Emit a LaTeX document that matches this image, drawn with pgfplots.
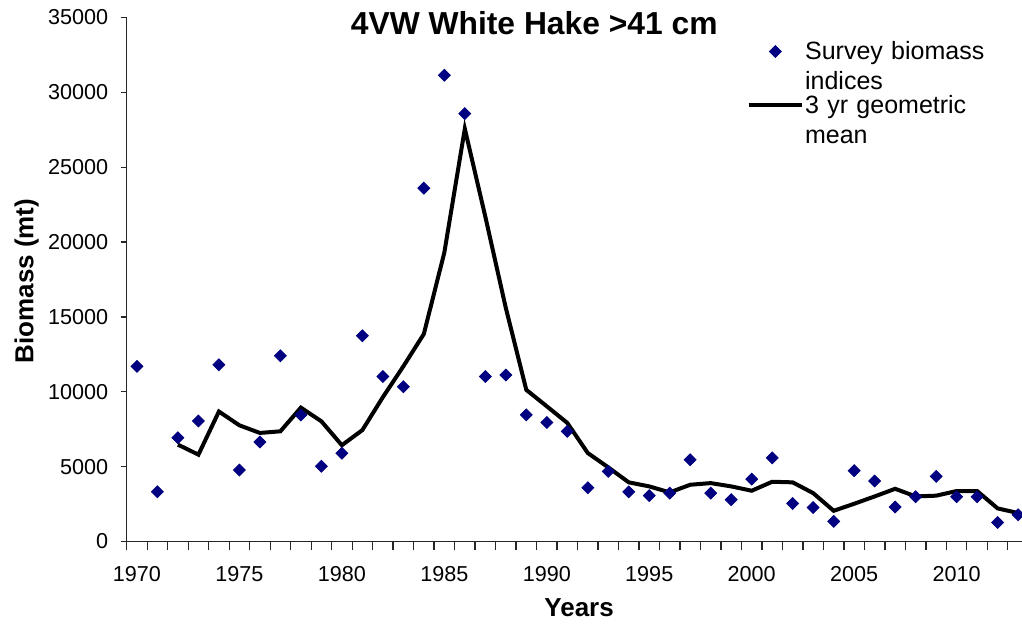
\documentclass[border=0pt]{standalone}
\usepackage{fontspec}
\setmainfont{Liberation Sans}
\usepackage{pgfplots}
\pgfplotsset{compat=1.18}
\definecolor{navymark}{RGB}{0,0,128}

\pgfplotstableread{
year biomass
1970 11700
1971 3320
1972 6930
1973 8050
1974 11800
1975 4770
1976 6650
1977 12400
1978 8450
1979 5020
1980 5900
1981 13740
1982 11020
1983 10340
1984 23600
1985 31140
1986 28580
1987 11020
1988 11120
1989 8460
1990 7950
1991 7360
1992 3590
1993 4680
1994 3320
1995 3060
1996 3230
1997 5460
1998 3230
1999 2790
2000 4170
2001 5580
2002 2540
2003 2270
2004 1340
2005 4730
2006 4040
2007 2300
2008 2990
2009 4350
2010 2990
2011 2990
2012 1270
2013 1780
}\survey

\pgfplotstableread{
year gmean
1972 6470
1973 5800
1974 8680
1975 7760
1976 7250
1977 7360
1978 8940
1979 8030
1980 6430
1981 7440
1982 9640
1983 11700
1984 13860
1985 19300
1986 27570
1987 21700
1988 15600
1989 10130
1990 9030
1991 7920
1992 5910
1993 4950
1994 3950
1995 3680
1996 3280
1997 3790
1998 3900
1999 3680
2000 3390
2001 3990
2002 3950
2003 3230
2004 2050
2005 2520
2006 3010
2007 3520
2008 3010
2009 3060
2010 3370
2011 3370
2012 2210
2013 1900
}\gmean

\begin{document}
\begin{tikzpicture}
\begin{axis}[
    scale only axis,
    width=447.65pt, height=262pt,
    xmin=1969.5, xmax=2013.19,
    ymin=0, ymax=35000,
    axis x line=bottom, axis y line=left,
    axis line style={-, black!85, line width=0.6pt},
    xtick={1970,1975,...,2010},
    minor xtick={1969.5,1970.5,...,2012.5},
    ytick={0,5000,...,35000},
    tick align=outside,
    major tick length=3pt, minor tick length=4.5pt,
    major x tick style={draw=none},
    every tick/.append style={black!85, line width=0.6pt},
    scaled y ticks=false,
    /pgf/number format/1000 sep={},
    /pgf/number format/assume math mode=true,
    tick label style={font=\fontsize{10.8}{13}\selectfont},
    xticklabel style={yshift=-6pt},
    yticklabel style={xshift=-2.75pt},
    title={4VW White Hake >41 cm},
    title style={at={(axis description cs:0.4552,0.9437)}, anchor=base,
        font=\fontsize{15.9}{18}\selectfont\bfseries},
    xlabel={Years},
    xlabel style={at={(axis description cs:0.5053,-0.1435)}, anchor=base,
        font=\fontsize{13}{15}\selectfont\bfseries},
    ylabel={Biomass (mt)},
    ylabel style={at={(axis description cs:-0.1043,0.497)}, anchor=base,
        font=\fontsize{13}{15}\selectfont\bfseries},
    legend image code/.code={
        \draw[mark repeat=2,mark phase=2,#1] plot coordinates {(0pt,4.2pt) (13.35pt,4.2pt) (26.7pt,4.2pt)};
    },
    reverse legend,
    legend style={at={(axis description cs:0.6925,0.9613)}, anchor=north west,
        draw=none, fill=none, inner sep=0pt, outer sep=0pt,
        column sep=-1.5pt, row sep=12.4pt,
        font=\fontsize{12.5}{15}\selectfont,
        cells={anchor=base west}},
]
\addplot[black, line width=2pt, mark=none] table[x=year, y=gmean] {\gmean};
\addlegendentry[text width=100pt]{3 yr geometric mean}
\addplot[only marks, mark=square*, mark size=2.1pt,
    mark options={rotate=45, fill=navymark, draw=navymark}]
    table[x=year, y=biomass] {\survey};
\addlegendentry[text width=100pt]{Survey biomass indices}
\end{axis}
\pgfresetboundingbox
\path (current axis.south west) ++(-63.35pt,-41.25pt) rectangle ++(511pt,312pt);
\end{tikzpicture}
\end{document}
